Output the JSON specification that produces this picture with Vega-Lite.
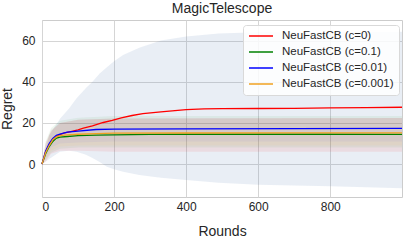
{
  "$schema": "https://vega.github.io/schema/vega-lite/v6.json",
  "width": 360,
  "height": 177,
  "autosize": {"type": "none"},
  "padding": {"left": 42, "top": 20, "right": 5, "bottom": 45},
  "background": "white",
  "title": {"text": "MagicTelescope", "font": "Liberation Sans", "fontSize": 14, "fontWeight": "normal", "color": "#262626", "offset": 4},
  "config": {
    "view": {"stroke": "#cccccc", "strokeWidth": 1},
    "axis": {"labelFont": "Liberation Sans", "titleFont": "Liberation Sans", "labelColor": "#262626", "titleColor": "#262626", "labelFontSize": 12, "titleFontSize": 14, "titleFontWeight": "normal", "gridColor": "#d5d5d5", "gridWidth": 1, "domain": false, "ticks": false}
  },
  "datasets": {
    "lines": [
      {"x": 0, "s": "NeuFastCB (c=0)", "m": 0}, {"x": 10, "s": "NeuFastCB (c=0)", "m": 6}, {"x": 20, "s": "NeuFastCB (c=0)", "m": 9.5}, {"x": 30, "s": "NeuFastCB (c=0)", "m": 12}, {"x": 40, "s": "NeuFastCB (c=0)", "m": 13.5}, {"x": 50, "s": "NeuFastCB (c=0)", "m": 14.3}, {"x": 60, "s": "NeuFastCB (c=0)", "m": 15}, {"x": 80, "s": "NeuFastCB (c=0)", "m": 15.8}, {"x": 100, "s": "NeuFastCB (c=0)", "m": 16.6}, {"x": 115, "s": "NeuFastCB (c=0)", "m": 17.5}, {"x": 140, "s": "NeuFastCB (c=0)", "m": 18.6}, {"x": 170, "s": "NeuFastCB (c=0)", "m": 20.2}, {"x": 195, "s": "NeuFastCB (c=0)", "m": 21.2}, {"x": 220, "s": "NeuFastCB (c=0)", "m": 22.5}, {"x": 250, "s": "NeuFastCB (c=0)", "m": 23.6}, {"x": 280, "s": "NeuFastCB (c=0)", "m": 24.5}, {"x": 330, "s": "NeuFastCB (c=0)", "m": 25.4}, {"x": 400, "s": "NeuFastCB (c=0)", "m": 26.5}, {"x": 450, "s": "NeuFastCB (c=0)", "m": 26.8}, {"x": 500, "s": "NeuFastCB (c=0)", "m": 26.9}, {"x": 600, "s": "NeuFastCB (c=0)", "m": 27}, {"x": 700, "s": "NeuFastCB (c=0)", "m": 27.1}, {"x": 800, "s": "NeuFastCB (c=0)", "m": 27.3}, {"x": 900, "s": "NeuFastCB (c=0)", "m": 27.4}, {"x": 999, "s": "NeuFastCB (c=0)", "m": 27.6},
      {"x": 0, "s": "NeuFastCB (c=0.1)", "m": 0}, {"x": 10, "s": "NeuFastCB (c=0.1)", "m": 5}, {"x": 20, "s": "NeuFastCB (c=0.1)", "m": 8.5}, {"x": 30, "s": "NeuFastCB (c=0.1)", "m": 11}, {"x": 40, "s": "NeuFastCB (c=0.1)", "m": 12.6}, {"x": 50, "s": "NeuFastCB (c=0.1)", "m": 13.1}, {"x": 70, "s": "NeuFastCB (c=0.1)", "m": 13.4}, {"x": 100, "s": "NeuFastCB (c=0.1)", "m": 13.8}, {"x": 150, "s": "NeuFastCB (c=0.1)", "m": 14.1}, {"x": 200, "s": "NeuFastCB (c=0.1)", "m": 14.2}, {"x": 300, "s": "NeuFastCB (c=0.1)", "m": 14.4}, {"x": 400, "s": "NeuFastCB (c=0.1)", "m": 14.5}, {"x": 600, "s": "NeuFastCB (c=0.1)", "m": 14.5}, {"x": 800, "s": "NeuFastCB (c=0.1)", "m": 14.5}, {"x": 999, "s": "NeuFastCB (c=0.1)", "m": 14.4},
      {"x": 0, "s": "NeuFastCB (c=0.01)", "m": 0}, {"x": 10, "s": "NeuFastCB (c=0.01)", "m": 6.3}, {"x": 20, "s": "NeuFastCB (c=0.01)", "m": 10}, {"x": 30, "s": "NeuFastCB (c=0.01)", "m": 12.5}, {"x": 40, "s": "NeuFastCB (c=0.01)", "m": 14}, {"x": 50, "s": "NeuFastCB (c=0.01)", "m": 14.6}, {"x": 70, "s": "NeuFastCB (c=0.01)", "m": 15.5}, {"x": 100, "s": "NeuFastCB (c=0.01)", "m": 16}, {"x": 150, "s": "NeuFastCB (c=0.01)", "m": 16.8}, {"x": 200, "s": "NeuFastCB (c=0.01)", "m": 17}, {"x": 400, "s": "NeuFastCB (c=0.01)", "m": 17.1}, {"x": 700, "s": "NeuFastCB (c=0.01)", "m": 17.2}, {"x": 999, "s": "NeuFastCB (c=0.01)", "m": 17.3},
      {"x": 0, "s": "NeuFastCB (c=0.001)", "m": 0}, {"x": 10, "s": "NeuFastCB (c=0.001)", "m": 5.5}, {"x": 20, "s": "NeuFastCB (c=0.001)", "m": 9}, {"x": 30, "s": "NeuFastCB (c=0.001)", "m": 11.8}, {"x": 40, "s": "NeuFastCB (c=0.001)", "m": 13.2}, {"x": 50, "s": "NeuFastCB (c=0.001)", "m": 13.8}, {"x": 70, "s": "NeuFastCB (c=0.001)", "m": 14.2}, {"x": 100, "s": "NeuFastCB (c=0.001)", "m": 14.5}, {"x": 150, "s": "NeuFastCB (c=0.001)", "m": 14.8}, {"x": 200, "s": "NeuFastCB (c=0.001)", "m": 15}, {"x": 400, "s": "NeuFastCB (c=0.001)", "m": 15.1}, {"x": 700, "s": "NeuFastCB (c=0.001)", "m": 15.2}, {"x": 999, "s": "NeuFastCB (c=0.001)", "m": 15.2}
    ],
    "bands": [
      {"x": 0, "b": "big", "lo": 0, "hi": 0}, {"x": 20, "b": "big", "lo": 2.5, "hi": 14}, {"x": 50, "b": "big", "lo": 6, "hi": 22}, {"x": 75, "b": "big", "lo": 6.5, "hi": 27}, {"x": 96, "b": "big", "lo": 6, "hi": 32}, {"x": 122, "b": "big", "lo": 4.5, "hi": 37}, {"x": 140, "b": "big", "lo": 3, "hi": 40}, {"x": 160, "b": "big", "lo": 1, "hi": 44}, {"x": 180, "b": "big", "lo": -1.3, "hi": 47}, {"x": 200, "b": "big", "lo": -2.5, "hi": 50}, {"x": 225, "b": "big", "lo": -3.7, "hi": 53}, {"x": 270, "b": "big", "lo": -5.3, "hi": 56.5}, {"x": 330, "b": "big", "lo": -6.7, "hi": 60}, {"x": 400, "b": "big", "lo": -7.8, "hi": 62}, {"x": 490, "b": "big", "lo": -9.1, "hi": 63.5}, {"x": 600, "b": "big", "lo": -10, "hi": 64}, {"x": 800, "b": "big", "lo": -10.8, "hi": 64.2}, {"x": 999, "b": "big", "lo": -11.8, "hi": 64.3},
      {"x": 0, "b": "r", "lo": 0, "hi": 0}, {"x": 10, "b": "r", "lo": 1, "hi": 10}, {"x": 25, "b": "r", "lo": 5, "hi": 16}, {"x": 50, "b": "r", "lo": 6.5, "hi": 20}, {"x": 100, "b": "r", "lo": 6.5, "hi": 21.5}, {"x": 200, "b": "r", "lo": 6, "hi": 22.2}, {"x": 999, "b": "r", "lo": 6, "hi": 22.4},
      {"x": 0, "b": "g", "lo": 0, "hi": 0}, {"x": 10, "b": "g", "lo": 2, "hi": 11}, {"x": 25, "b": "g", "lo": 5.5, "hi": 17.5}, {"x": 50, "b": "g", "lo": 7.5, "hi": 21}, {"x": 100, "b": "g", "lo": 8, "hi": 22.5}, {"x": 200, "b": "g", "lo": 8, "hi": 23.3}, {"x": 999, "b": "g", "lo": 8, "hi": 23.4},
      {"x": 0, "b": "o", "lo": 0, "hi": 0}, {"x": 10, "b": "o", "lo": 2.5, "hi": 10}, {"x": 25, "b": "o", "lo": 6.5, "hi": 16.5}, {"x": 50, "b": "o", "lo": 8.5, "hi": 20}, {"x": 100, "b": "o", "lo": 9, "hi": 21.5}, {"x": 200, "b": "o", "lo": 9, "hi": 22.2}, {"x": 999, "b": "o", "lo": 9, "hi": 22.4},
      {"x": 0, "b": "bl", "lo": 0, "hi": 0}, {"x": 10, "b": "bl", "lo": 3.5, "hi": 10}, {"x": 25, "b": "bl", "lo": 8, "hi": 16.5}, {"x": 50, "b": "bl", "lo": 10, "hi": 20}, {"x": 100, "b": "bl", "lo": 10.5, "hi": 21.5}, {"x": 200, "b": "bl", "lo": 11, "hi": 22.2}, {"x": 999, "b": "bl", "lo": 11, "hi": 22.4}
    ]
  },
  "layer": [
    {
      "data": {"name": "bands"},
      "transform": [{"filter": "datum.b === 'big'"}],
      "mark": {"type": "area", "color": "#4c72b0", "opacity": 0.12},
      "encoding": {
        "x": {"field": "x", "type": "quantitative", "scale": {"domain": [0, 999], "nice": false}, "axis": {"values": [0, 200, 400, 600, 800], "title": "Rounds", "labelPadding": 4, "titlePadding": 12}},
        "y": {"field": "lo", "type": "quantitative", "scale": {"domain": [-16, 70], "nice": false}, "axis": {"values": [0, 20, 40, 60], "title": "Regret", "labelPadding": 7, "titlePadding": 7}},
        "y2": {"field": "hi"}
      }
    },
    {
      "data": {"name": "bands"},
      "transform": [{"filter": "datum.b === 'r'"}],
      "mark": {"type": "area", "color": "#ff0000", "opacity": 0.08},
      "encoding": {"x": {"field": "x", "type": "quantitative"}, "y": {"field": "lo", "type": "quantitative"}, "y2": {"field": "hi"}}
    },
    {
      "data": {"name": "bands"},
      "transform": [{"filter": "datum.b === 'g'"}],
      "mark": {"type": "area", "color": "#008000", "opacity": 0.06},
      "encoding": {"x": {"field": "x", "type": "quantitative"}, "y": {"field": "lo", "type": "quantitative"}, "y2": {"field": "hi"}}
    },
    {
      "data": {"name": "bands"},
      "transform": [{"filter": "datum.b === 'o'"}],
      "mark": {"type": "area", "color": "#ffa500", "opacity": 0.06},
      "encoding": {"x": {"field": "x", "type": "quantitative"}, "y": {"field": "lo", "type": "quantitative"}, "y2": {"field": "hi"}}
    },
    {
      "data": {"name": "bands"},
      "transform": [{"filter": "datum.b === 'bl'"}],
      "mark": {"type": "area", "color": "#0000ff", "opacity": 0.04},
      "encoding": {"x": {"field": "x", "type": "quantitative"}, "y": {"field": "lo", "type": "quantitative"}, "y2": {"field": "hi"}}
    },
    {
      "data": {"name": "lines"},
      "mark": {"type": "line", "strokeWidth": 1.3},
      "encoding": {
        "x": {"field": "x", "type": "quantitative"},
        "y": {"field": "m", "type": "quantitative"},
        "color": {
          "field": "s", "type": "nominal", "sort": null,
          "scale": {"domain": ["NeuFastCB (c=0)", "NeuFastCB (c=0.1)", "NeuFastCB (c=0.01)", "NeuFastCB (c=0.001)"], "range": ["#ff0000", "#008000", "#0000ff", "#f0a020"]},
          "legend": {"title": null, "orient": "none", "legendX": 201, "legendY": 5, "symbolType": "stroke", "symbolSize": 576, "symbolStrokeWidth": 1.5, "labelFont": "Liberation Sans", "labelFontSize": 11.5, "labelColor": "#262626", "labelOffset": 8, "clipHeight": 12, "rowPadding": 4, "padding": 5, "fillColor": "rgba(255,255,255,0.85)", "strokeColor": "#d9d9d9", "cornerRadius": 3}
        }
      }
    }
  ]
}
